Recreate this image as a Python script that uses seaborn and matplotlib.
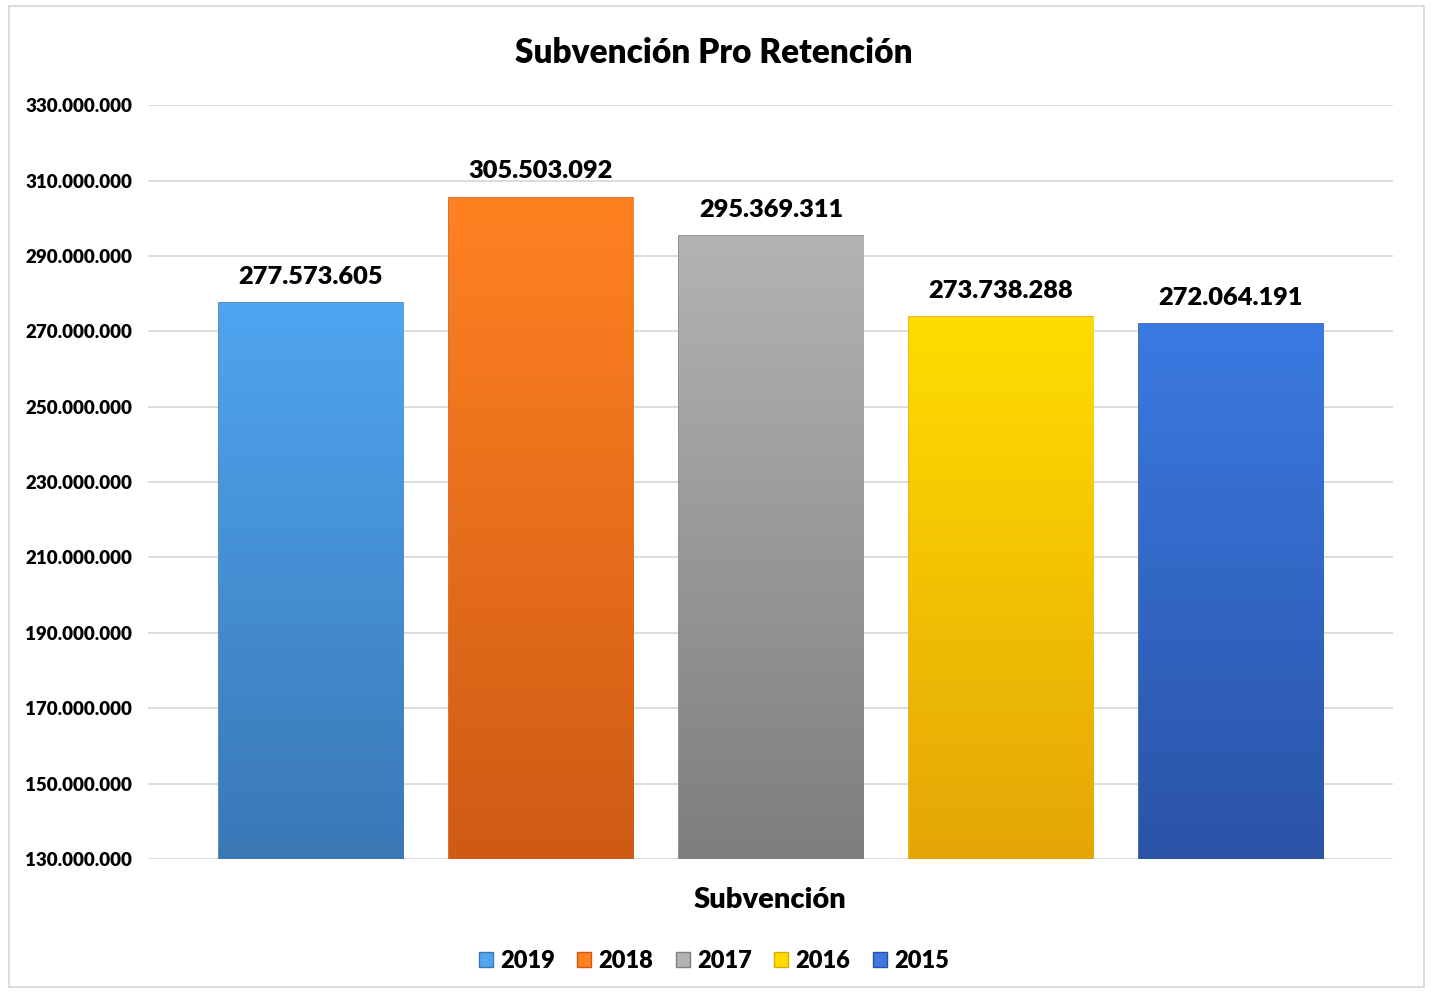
import matplotlib
matplotlib.use('Agg')
import matplotlib.pyplot as plt
import matplotlib.colors as mcolors
from matplotlib.patches import Rectangle
import numpy as np
import pandas as pd
import seaborn as sns

# datos del gráfico
years = ['2019', '2018', '2017', '2016', '2015']
values = [277573605, 305503092, 295369311, 273738288, 272064191]
top_colors = ['#4FA5F0', '#FF8222', '#B3B3B3', '#FFDD00', '#3B7AE2']
bottom_colors = ['#3A78B5', '#CF5A14', '#7E7E7E', '#E4A606', '#2A53A6']
y_ticks = list(range(130000000, 330000001, 20000000))

sns.set_style('white')
plt.rcParams['font.family'] = ['Lato', 'DejaVu Sans']
plt.rcParams['text.color'] = 'black'
plt.rcParams['ytick.color'] = 'black'
plt.rcParams['axes.labelcolor'] = 'black'
W = 'heavy'

df = pd.DataFrame({'year': years, 'value': values})

fig = plt.figure(figsize=(14.33, 9.93), dpi=100)
ax = fig.add_axes([0.103, 0.135, 0.869, 0.759])

sns.barplot(data=df, x='year', y='value', hue='year', palette=top_colors,
            width=0.80, legend=False, ax=ax, zorder=3)

# degradado vertical dentro de cada barra
for patch, c1, c2 in zip(ax.patches, top_colors, bottom_colors):
    x0, y0 = patch.get_x(), 130000000
    w, h = patch.get_width(), patch.get_height()
    cmap = mcolors.LinearSegmentedColormap.from_list('g', [c2, c1])
    grad = np.linspace(0, 1, 256).reshape(-1, 1)
    im = ax.imshow(grad, cmap=cmap, aspect='auto', origin='lower',
                   extent=[x0, x0 + w, y0, patch.get_y() + h], zorder=4)
    im.set_clip_path(patch)
    patch.set_edgecolor(c2)
    patch.set_linewidth(1.2)

ax.set_xlim(-0.709, 4.704)
ax.set_ylim(130000000, 330000000)
ax.set_yticks(y_ticks)
ax.set_yticklabels([f'{t:,}'.replace(',', '.') for t in y_ticks],
                   fontsize=13.5, fontweight=W)
ax.set_xticks([])
ax.yaxis.grid(True, color='#D9D9D9', linewidth=1.3, zorder=0)
ax.tick_params(axis='y', length=0, pad=11)
for s in ax.spines.values():
    s.set_visible(False)

for i, v in enumerate(values):
    ax.text(i, v + 4000000, f'{v:,}'.replace(',', '.'), ha='center', va='bottom',
            fontsize=18.3, fontweight=W, zorder=5)

ax.set_xlabel('Subvención', fontsize=21, fontweight=W, labelpad=20)
ax.set_ylabel('')
fig.text(0.498, 0.947, 'Subvención Pro Retención', ha='center', va='center',
         fontsize=24, fontweight=W)

# leyenda inferior
handles = [Rectangle((0, 0), 1, 1, facecolor=tc, edgecolor=bc)
           for tc, bc in zip(top_colors, bottom_colors)]
leg = fig.legend(handles, years, loc='center', bbox_to_anchor=(0.498, 0.032),
                 ncol=5, frameon=False, handlelength=0.6, handleheight=0.6,
                 handletextpad=0.3, columnspacing=0.95,
                 prop={'size': 17, 'weight': W})

fig.patches.append(Rectangle((0.006, 0.006), 0.988, 0.988, transform=fig.transFigure,
                             fill=False, edgecolor='#D9D9D9', linewidth=1.3))

fig.savefig('out.png', dpi=100, facecolor='white')
